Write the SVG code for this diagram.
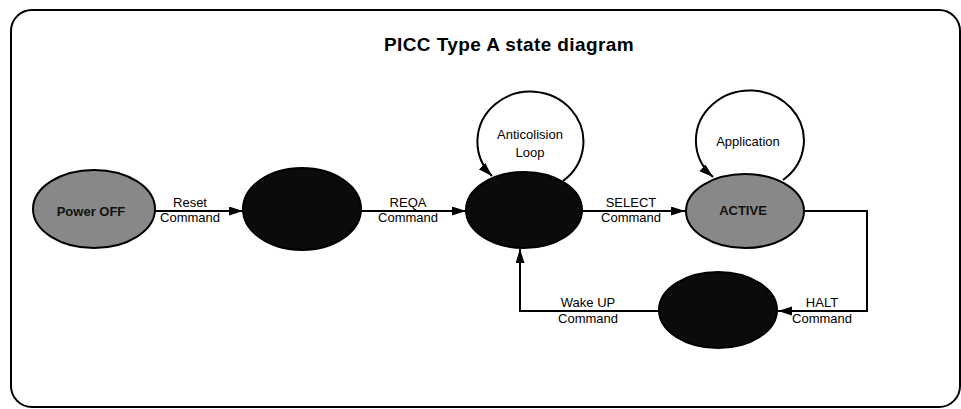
<svg xmlns="http://www.w3.org/2000/svg" width="961" height="409" viewBox="0 0 961 409">
  <style>
    .frame { fill: #ffffff; stroke: #000000; stroke-width: 2; }
    .title { font-family: "Liberation Sans", Arial, sans-serif; font-size: 19px; font-weight: bold; letter-spacing: 0.4px; fill: #000000; text-anchor: middle; }
    .state { stroke: #000000; stroke-width: 2; }
    .grey { fill: #888888; }
    .dark { fill: #0b0b0b; }
    .name { font-family: "Liberation Sans", Arial, sans-serif; font-size: 13px; font-weight: bold; fill: #111111; text-anchor: middle; }
    .lbl { font-family: "Liberation Sans", Arial, sans-serif; font-size: 13px; fill: #000000; text-anchor: middle; }
    .edge { fill: none; stroke: #000000; stroke-width: 2; marker-end: url(#arrow); }
  </style>
  <defs>
    <marker id="arrow" markerUnits="userSpaceOnUse" markerWidth="15" markerHeight="10" refX="14" refY="4.5" orient="auto">
      <path d="M0,0 L14,4.5 L0,9 Z" fill="#000000"/>
    </marker>
  </defs>

  <!-- outer rounded frame -->
  <rect class="frame" x="11" y="10" width="949" height="397" rx="21" ry="21"/>

  <text class="title" x="509" y="51">PICC Type A state diagram</text>

  <!-- transitions and self loops -->
  <g id="connectors">
    <path class="edge" d="M155,211 L243,211"/>
    <path class="edge" d="M360,211 L466,211"/>
    <path class="edge" d="M583,211 L685,211"/>
    <path class="edge" d="M804,211 L867,211 L867,311 L778,311"/>
    <path class="edge" d="M659,311 L520,311 L520,249"/>
    <path class="edge" d="M563,181 A53,50 0 1 0 492,176"/>
    <path class="edge" d="M783,180 A54,50 0 1 0 713,177"/>

    <text class="lbl" x="190" y="207">Reset</text>
    <text class="lbl" x="190" y="222">Command</text>
    <text class="lbl" x="408" y="207">REQA</text>
    <text class="lbl" x="408" y="222">Command</text>
    <text class="lbl" x="631" y="207">SELECT</text>
    <text class="lbl" x="631" y="222">Command</text>
    <text class="lbl" x="822" y="307">HALT</text>
    <text class="lbl" x="822" y="323">Command</text>
    <text class="lbl" x="588" y="307">Wake UP</text>
    <text class="lbl" x="588" y="323">Command</text>
    <text class="lbl" x="530" y="139">Anticolision</text>
    <text class="lbl" x="530" y="157">Loop</text>
    <text class="lbl" x="748" y="146">Application</text>
  </g>

  <g id="power-off">
    <ellipse class="state grey" cx="94" cy="209" rx="61" ry="39"/>
    <text class="name" x="91" y="216">Power OFF</text>
  </g>

  <g id="idle">
    <ellipse class="state dark" cx="302" cy="209" rx="59" ry="41"/>
  </g>

  <g id="ready">
    <ellipse class="state dark" cx="524" cy="210" rx="58" ry="38"/>
  </g>

  <g id="active">
    <ellipse class="state grey" cx="745" cy="211" rx="59" ry="37"/>
    <text class="name" x="743" y="215">ACTIVE</text>
  </g>

  <g id="halt">
    <ellipse class="state dark" cx="718" cy="310" rx="59" ry="38"/>
  </g>
</svg>
